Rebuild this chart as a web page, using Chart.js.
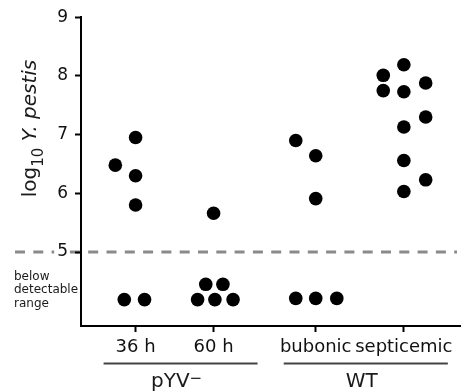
<!DOCTYPE html>
<html><head><meta charset="utf-8">
<script src="https://cdn.jsdelivr.net/npm/chart.js@4"></script>
<style>html,body{margin:0;padding:0;background:#fff}canvas{display:block}</style>
</head><body>
<canvas id="c" width="467" height="392"></canvas>
<script>
// ---------- data ----------
const categories = ['36 h', '60 h', 'bubonic', 'septicemic'];
const groupNames = ['pYV', 'WT'];
const groupSup = ['\u2212', ''];
const groupFirst = [0, 2];
const groupLast = [1, 3];
const yTickValues = [5, 6, 7, 8, 9];
const detectionLimit = 5;
const belowLabel = ['below', 'detectable', 'range'];

// log10 Y. pestis per animal, and beeswarm column offsets (category units)
const values36h   = [6.95, 6.48, 6.30, 5.80, 4.19, 4.19];
const swarm36h    = [0, -0.26, 0, 0, -0.145, 0.115];
const values60h   = [5.66, 4.45, 4.45, 4.19, 4.19, 4.19];
const swarm60h    = [0, -0.10, 0.12, -0.205, 0.017, 0.25];
const valuesBub   = [6.90, 6.64, 5.91, 4.21, 4.21, 4.21];
const swarmBub    = [-0.256, 0, 0, -0.256, 0, 0.27];
const valuesSept  = [8.19, 8.01, 7.88, 7.75, 7.73, 7.30, 7.13, 6.56, 6.23, 6.03];
const swarmSept   = [0, -0.264, 0.28, -0.264, 0, 0.28, 0, 0, 0.28, 0];

const allValues = [values36h, values60h, valuesBub, valuesSept];
const allSwarm  = [swarm36h, swarm60h, swarmBub, swarmSept];

// ---------- layout ----------
const CAT_X = [1, 2, 3.31, 4.44];
const FONT = '"DejaVu Sans", sans-serif';

const points = [];
allValues.forEach((vals, i) => vals.forEach((v, j) => points.push({x: CAT_X[i] + allSwarm[i][j], y: v})));

const deco = {
  id: 'deco',
  beforeDraw(chart) {
    const ctx = chart.ctx, y = chart.scales.y.getPixelForValue(detectionLimit);
    ctx.save();
    ctx.strokeStyle = '#8a8a8a';
    ctx.lineWidth = 3;
    ctx.setLineDash([10, 8.3]);
    ctx.beginPath();
    ctx.moveTo(15, y);
    ctx.lineTo(457, y);
    ctx.stroke();
    ctx.restore();
  },
  afterDraw(chart) {
    const ctx = chart.ctx, xs = chart.scales.x;
    ctx.save();
    // y title
    ctx.translate(35.5, 128.5);
    ctx.rotate(-Math.PI / 2);
    ctx.fillStyle = '#1a1a1a';
    ctx.textBaseline = 'alphabetic';
    ctx.textAlign = 'left';
    const f1 = '20px ' + FONT, fs = '15px ' + FONT, fi = 'oblique 20px ' + FONT;
    ctx.font = f1; const wLog = ctx.measureText('log').width;
    ctx.font = fs; const w10 = ctx.measureText('10').width;
    ctx.font = f1; const wSp = ctx.measureText(' ').width;
    ctx.font = fi; const wYp = ctx.measureText('Y. pestis').width;
    let x0 = -(wLog + w10 + wSp + wYp) / 2;
    ctx.font = f1; ctx.fillText('log', x0, 0); x0 += wLog;
    ctx.font = fs; ctx.fillText('10', x0, 7); x0 += w10 + wSp;
    ctx.font = fi; ctx.fillText('Y. pestis', x0, 0);
    ctx.restore();

    // below detectable range
    ctx.save();
    ctx.fillStyle = '#1a1a1a';
    ctx.font = '12px ' + FONT;
    ctx.textAlign = 'left';
    ctx.textBaseline = 'alphabetic';
    belowLabel.forEach((t, i) => ctx.fillText(t, 14, 279.5 + i * 13.8));
    ctx.restore();

    // group brackets
    ctx.save();
    groupNames.forEach((g, k) => {
      const a = xs.getPixelForValue(CAT_X[groupFirst[k]]) - 32;
      const b = xs.getPixelForValue(CAT_X[groupLast[k]]) + 44;
      ctx.strokeStyle = '#444';
      ctx.lineWidth = 2;
      ctx.beginPath(); ctx.moveTo(a, 363.5); ctx.lineTo(b, 363.5); ctx.stroke();
      ctx.fillStyle = '#1a1a1a';
      ctx.textBaseline = 'alphabetic';
      ctx.textAlign = 'left';
      ctx.font = '20px ' + FONT;
      const w = ctx.measureText(g).width;
      ctx.font = '15px ' + FONT;
      const ws = groupSup[k] ? ctx.measureText(groupSup[k]).width : 0;
      const cx = (a + b) / 2 - 4;
      let x = cx - (w + ws) / 2;
      ctx.font = '20px ' + FONT;
      ctx.fillText(g, x, 386.5);
      if (groupSup[k]) { ctx.font = '15px ' + FONT; ctx.fillText(groupSup[k], x + w, 383); }
    });
    ctx.restore();
  }
};

const axisGrid = {display: true, drawOnChartArea: false, drawTicks: true, tickLength: 6, tickWidth: 2, tickColor: '#000'};
const axisBorder = {display: true, color: '#000', width: 2};

new Chart(document.getElementById('c'), {
  type: 'scatter',
  data: {datasets: [{data: points, backgroundColor: '#000', borderWidth: 0, pointRadius: 6.8, pointHoverRadius: 6.8}]},
  options: {
    responsive: false, animation: false, events: [],
    layout: {padding: {top: 15, right: 7, left: 0, bottom: 0}},
    plugins: {legend: {display: false}, tooltip: {enabled: false}},
    scales: {
      x: {
        type: 'linear', min: 0.30, max: 5.16,
        afterBuildTicks: s => { s.ticks = CAT_X.map(v => ({value: v})); },
        afterFit: s => { s.height = 66; },
        grid: axisGrid, border: axisBorder,
        ticks: {autoSkip: false, maxRotation: 0, padding: 5, color: '#111',
                font: {family: FONT, size: 18}, callback: (v, i) => categories[i]}
      },
      y: {
        type: 'linear', min: 3.74, max: 9,
        afterBuildTicks: s => { s.ticks = yTickValues.map(v => ({value: v})); },
        afterFit: s => { s.width = 81; },
        grid: axisGrid, border: axisBorder,
        ticks: {padding: 7, color: '#111', font: {family: FONT, size: 17},
                showLabelBackdrop: true, backdropColor: '#fff',
                backdropPadding: {left: 3, right: 1, top: 0, bottom: 0}}
      }
    }
  },
  plugins: [deco]
});
</script>
</body></html>
